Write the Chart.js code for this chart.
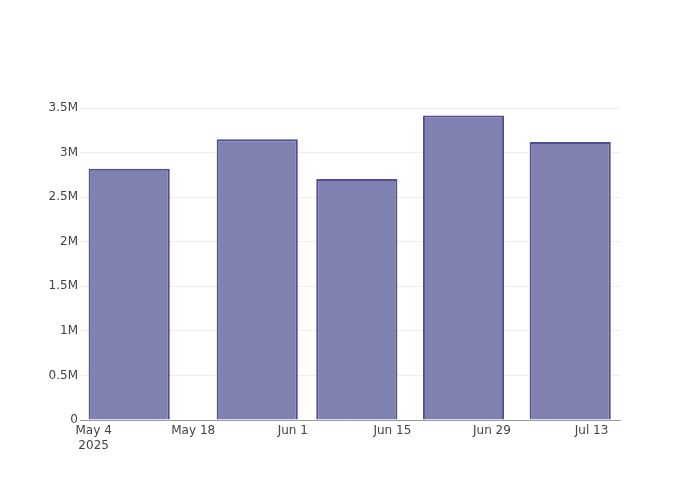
<!DOCTYPE html>
<html>
<head>
<meta charset="utf-8">
<script src="https://cdn.jsdelivr.net/npm/chart.js@4.4.1/dist/chart.umd.min.js"></script>
<style>
  html, body { margin: 0; padding: 0; background: #fff; }
  #wrap { width: 700px; height: 500px; }
</style>
</head>
<body>
<div id="wrap"><canvas id="c" width="700" height="500"></canvas></div>
<script>
// ---- data ----
const barDates = ["2025-05-09", "2025-05-27", "2025-06-10", "2025-06-25", "2025-07-10"];
const barValues = [2820000, 3150000, 2705000, 3415000, 3120000];
const tickDates = ["2025-05-04", "2025-05-18", "2025-06-01", "2025-06-15", "2025-06-29", "2025-07-13"];
const tickLabels = [["May 4", "2025"], "May 18", "Jun 1", "Jun 15", "Jun 29", "Jul 13"];
const yTickValues = [0, 500000, 1000000, 1500000, 2000000, 2500000, 3000000, 3500000];
const yTickLabels = ["0", "0.5M", "1M", "1.5M", "2M", "2.5M", "3M", "3.5M"];
const xRangeDates = ["2025-05-02T02:00", "2025-07-17T00:00"];

const DAY = 86400000;
const origin = Date.parse(tickDates[0] + "T00:00:00Z");
function dayOf(s) {
  const iso = s.length > 10 ? s + ":00Z" : s + "T00:00:00Z";
  return (Date.parse(iso) - origin) / DAY;
}
const barDays = barDates.map(dayOf);
const tickDays = tickDates.map(dayOf);

const font = { family: "'DejaVu Sans', sans-serif", size: 12 };

new Chart(document.getElementById('c'), {
  type: 'bar',
  data: {
    datasets: [{
      data: barDays.map((d, i) => ({ x: d, y: barValues[i] })),
      backgroundColor: 'rgb(128,128,177)',
      borderColor: 'rgb(78,78,146)',
      borderWidth: 2,
      barPercentage: 0.815,
      categoryPercentage: 1.0
    }]
  },
  options: {
    responsive: false,
    animation: false,
    layout: { padding: { top: 100, right: 80, left: 0, bottom: 0 } },
    plugins: { legend: { display: false }, tooltip: { enabled: false } },
    scales: {
      x: {
        type: 'linear',
        offset: false,
        min: dayOf(xRangeDates[0]),
        max: dayOf(xRangeDates[1]),
        afterBuildTicks: s => { s.ticks = tickDays.map(v => ({ value: v })); },
        afterFit: s => { s.height = 80; },
        grid: { display: false, drawTicks: false, offset: false },
        border: { display: true, color: '#9a9a9a', width: 1 },
        ticks: {
          font: font, color: '#444', padding: 4, maxRotation: 0, autoSkip: false,
          callback: v => { const i = tickDays.indexOf(v); return i >= 0 ? tickLabels[i] : ''; }
        }
      },
      y: {
        min: 0,
        max: 3590000,
        afterBuildTicks: s => { s.ticks = yTickValues.map(v => ({ value: v })); },
        afterFit: s => { s.width = 80; },
        grid: { color: '#eeeeee', lineWidth: 1, drawTicks: false },
        border: { display: false },
        ticks: {
          font: font, color: '#444', padding: 2,
          callback: v => { const i = yTickValues.indexOf(v); return i >= 0 ? yTickLabels[i] : ''; }
        }
      }
    }
  }
});
</script>
</body>
</html>
